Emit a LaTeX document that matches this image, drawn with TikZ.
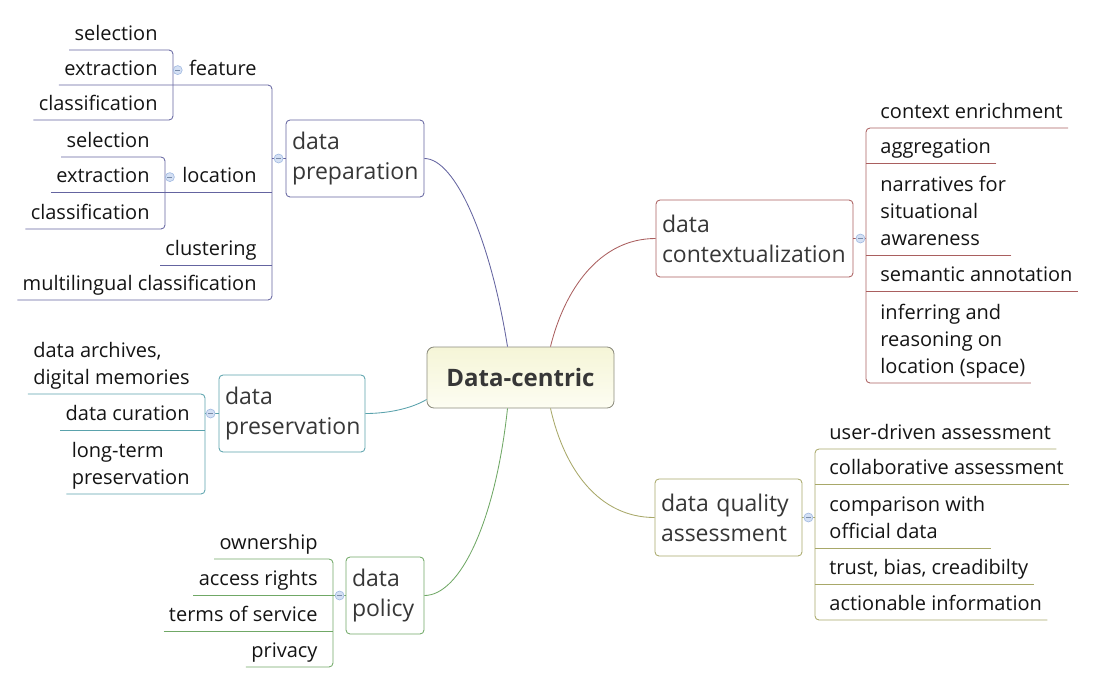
\documentclass[tikz,border=0pt]{standalone}
\usepackage{fontspec}
\setmainfont{Open Sans}

\definecolor{prepc}{RGB}{100,100,160}
\definecolor{ctxc}{RGB}{170,95,95}
\definecolor{presc}{RGB}{90,162,172}
\definecolor{polc}{RGB}{112,168,102}
\definecolor{qualc}{RGB}{168,168,105}
\definecolor{leafgray}{RGB}{20,20,20}
\definecolor{topicgray}{RGB}{55,55,55}
\definecolor{dotfill}{RGB}{212,224,244}
\definecolor{dotline}{RGB}{160,185,225}

\newcommand\leafsize{\fontsize{20}{27}\selectfont}
\newcommand\topicsize{\fontsize{23}{30}\selectfont}
\newcommand\hubsize{\fontsize{24}{30}\selectfont\bfseries}

\tikzset{
  leaf/.style={inner xsep=5pt, inner ysep=1pt, align=left, font=\leafsize,
    text=leafgray, execute at end node=\strut},
  leafL/.style={leaf, anchor=south east},
  leafR/.style={leaf, anchor=south west},
  topic/.style={draw=#1, rounded corners=4pt, fill=white, minimum height=77pt,
    inner xsep=6pt, align=left, font=\topicsize, text=topicgray},
  hub/.style={draw={rgb,255:red,140;green,140;blue,125}, rounded corners=7pt,
    top color={rgb,255:red,245;green,245;blue,215},
    bottom color={rgb,255:red,253;green,253;blue,242},
    minimum width=187pt, minimum height=61pt, font=\hubsize, text=topicgray},
  dot/.style={circle, inner sep=0pt, minimum size=9pt, fill=dotfill, draw=dotline,
    line width=0.6pt,
    path picture={\draw[dotline!75!black, line width=0.6pt]
      ([xshift=-2.5pt]path picture bounding box.center)
      -- ([xshift=2.5pt]path picture bounding box.center);}}
}

\begin{document}
\begin{tikzpicture}[x=1pt,y=-1pt,line width=0.85pt]
\useasboundingbox (0,0) rectangle (1095,683);

% centre and main topics
\node[hub] (hub) at (520.5,377.5) {Data-centric};
\node[topic=prepc, text width=126pt] (prep) at (355,158.5) {data\\preparation};
\node[topic=ctxc, text width=185pt] (ctx) at (754.5,238.5) {data\\contextualization};
\node[topic=presc, text width=134pt] (pres) at (292,413.5) {data\\preservation};
\node[topic=polc, text width=66pt] (pol) at (385,595.5) {data\\policy};
\node[topic=qualc, text width=135pt] (qual) at (728.5,517.5) {data quality\\assessment};

\draw[prepc] ([xshift=-13]hub.north) .. controls +(-17,-107) and +(31,0) .. (prep.east);
\draw[ctxc] ([xshift=30]hub.north) .. controls +(14,-57) and +(-56,0) .. (ctx.west);
\draw[qualc] ([xshift=30]hub.south) .. controls +(14,62) and +(-55,0) .. (qual.west);
\draw[polc] ([xshift=-13]hub.south) .. controls +(-12,112) and +(36,0) .. (pol.east);
\draw[presc] ([yshift=-22pt]hub.west) .. controls +(-17,10) and +(20,0) .. (pres.east);

% data preparation
\coordinate (prepbar) at (272,0);
\coordinate (featbar) at (173,0);
\coordinate (locbar) at (165,0);
\node[leafL] (feat) at (262,85) {feature};
\node[leafL] (loc) at (262,192) {location};
\node[leafL] (clus) at (262,265) {clustering};
\node[leafL] (mcls) at (262,300) {multilingual classification};
\foreach \n/\y/\t in {fsel/50/selection,fext/85/extraction,fcls/120/classification}
  \node[leafL] (\n) at (163,\y) {\t};
\foreach \n/\y/\t in {lsel/157/selection,lext/192/extraction,lcls/229/classification}
  \node[leafL] (\n) at (155,\y) {\t};
\draw[prepc, rounded corners=4pt] (fext.south west) -- (feat.south -| prepbar)
  -- (mcls.south -| prepbar) -- (mcls.south west);
\draw[prepc, rounded corners=4pt] (fsel.south west) -- (fsel.south -| featbar)
  -- (fcls.south -| featbar) -- (fcls.south west);
\draw[prepc, rounded corners=4pt] (lsel.south west) -- (lsel.south -| locbar)
  -- (lcls.south -| locbar) -- (lcls.south west);
\draw[prepc] (lext.south west) -- (loc.south -| prepbar);
\draw[prepc] (clus.south west) -- (clus.south -| prepbar);
\draw[prepc] (prep.west) -- (prep.west -| prepbar);
\node[dot] (prepdot) at ([xshift=-7pt]prep.west) {};
\node[dot] (featdot) at ([xshift=-6pt]feat.west) {};
\node[dot] (locdot) at ([xshift=-7pt]loc.west) {};

% data contextualization
\coordinate (ctxbar) at (866,0);
\foreach \n/\y/\t in {cenr/128/context enrichment, aggr/163/aggregation,
    narr/255/{narratives for\\situational\\awareness}, sema/291/semantic annotation,
    infr/383/{inferring and\\reasoning on\\location (space)}}
  \node[leafR] (\n) at (875,\y) {\t};
\draw[ctxc, rounded corners=4pt] (cenr.south east) -- (cenr.south -| ctxbar)
  -- (infr.south -| ctxbar) -- (infr.south east);
\foreach \n in {aggr,narr,sema}
  \draw[ctxc] (\n.south east) -- (\n.south -| ctxbar);
\draw[ctxc] (ctx.east) -- (ctx.east -| ctxbar);
\node[dot] (ctxdot) at ([xshift=7pt]ctx.east) {};

% data preservation
\coordinate (presbar) at (205,0);
\foreach \n/\y/\t in {arch/394/{data archives,\\digital memories}, cura/430/data curation,
    ltp/494/{long-term\\preservation}}
  \node[leafL] (\n) at (195,\y) {\t};
\draw[presc, rounded corners=4pt] (arch.south west) -- (arch.south -| presbar)
  -- (ltp.south -| presbar) -- (ltp.south west);
\draw[presc] (cura.south west) -- (cura.south -| presbar);
\draw[presc] (pres.west) -- (pres.west -| presbar);
\node[dot] (presdot) at ([xshift=-8pt]pres.west) {};

% data policy
\coordinate (polbar) at (333,0);
\foreach \n/\y/\t in {own/559/ownership, acc/595/access rights, tos/631/terms of service,
    priv/667/privacy}
  \node[leafL] (\n) at (323,\y) {\t};
\draw[polc, rounded corners=4pt] (own.south west) -- (own.south -| polbar)
  -- (priv.south -| polbar) -- (priv.south west);
\foreach \n in {acc,tos}
  \draw[polc] (\n.south west) -- (\n.south -| polbar);
\draw[polc] (pol.west) -- (pol.west -| polbar);
\node[dot] (poldot) at ([xshift=-6pt]pol.west) {};

% data quality assessment
\coordinate (qualbar) at (815,0);
\foreach \n/\y/\t in {usra/449/user-driven assessment, cola/484/collaborative assessment,
    cmpo/548/{comparison with\\official data}, trst/584/{trust, bias, creadibilty},
    actn/620/actionable information}
  \node[leafR] (\n) at (824,\y) {\t};
\draw[qualc, rounded corners=4pt] (usra.south east) -- (usra.south -| qualbar)
  -- (actn.south -| qualbar) -- (actn.south east);
\foreach \n in {cola,cmpo,trst}
  \draw[qualc] (\n.south east) -- (\n.south -| qualbar);
\draw[qualc] (qual.east) -- (qual.east -| qualbar);
\node[dot] (qualdot) at ([xshift=6pt]qual.east) {};
\end{tikzpicture}
\end{document}
